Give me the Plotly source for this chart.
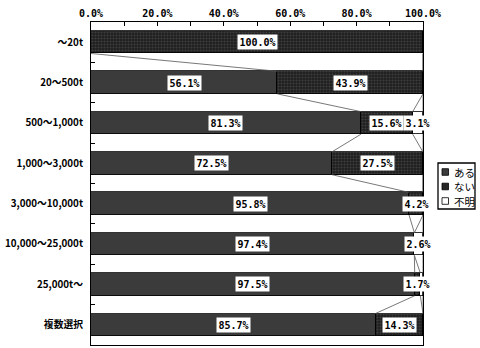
import plotly.graph_objects as go

# Survey result by annual volume class (percent of respondents)
categories = ["～20t", "20～500t", "500～1,000t", "1,000～3,000t",
              "3,000～10,000t", "10,000～25,000t", "25,000t～", "複数選択"]
series_names = ["ある", "ない", "不明"]
aru = [0.0, 56.1, 81.3, 72.5, 95.8, 97.4, 97.5, 85.7]
nai = [100.0, 43.9, 15.6, 27.5, 4.2, 0.0, 1.7, 14.3]
fumei = [0.0, 0.0, 3.1, 0.0, 0.0, 2.6, 0.8, 0.0]
x_tick_vals = [0, 10, 20, 30, 40, 50, 60, 70, 80, 90, 100]
x_tick_text = ["0.0%", "", "20.0%", "", "40.0%", "", "60.0%", "", "80.0%", "", "100.0%"]

W, H = 480, 348
M_L, M_R, M_T, M_B = 91, 57, 22, 3
BAR_W = 0.56
JP_FONT = "Noto Sans CJK JP"
NUM_FONT = "DejaVu Sans Mono"

styles = [
    dict(color="#3b3b3b"),
    dict(color="#1f1f1f", pattern=dict(shape=".", fgcolor="#5e5e5e", size=3, solidity=0.35)),
    dict(color="#ffffff"),
]
values = [aru, nai, fumei]

fig = go.Figure()
for name, vals, st in zip(series_names, values, styles):
    fig.add_trace(go.Bar(
        y=categories, x=vals, name=name, orientation="h", width=BAR_W,
        marker=dict(line=dict(color="#000000", width=0.8), **st),
        showlegend=False, hoverinfo="skip",
    ))

# cumulative right edges of each series, per row
cums = []
running = [0.0] * len(categories)
for vals in values:
    running = [r + v for r, v in zip(running, vals)]
    cums.append(list(running))

# series lines joining segment ends of neighbouring bars
shapes = []
for cum in cums:
    for i in range(len(categories) - 1):
        shapes.append(dict(
            type="line", xref="x", yref="y",
            x0=cum[i], y0=i + BAR_W / 2, x1=cum[i + 1], y1=i + 1 - BAR_W / 2,
            line=dict(color="#555555", width=0.8), layer="above",
        ))

# value labels in white boxes
annotations = []
for vals, cum in zip(values, cums):
    for i, v in enumerate(vals):
        if v < 1.0:
            continue
        annotations.append(dict(
            x=cum[i] - v / 2, y=i, xref="x", yref="y",
            text=f"<b>{v:.1f}%</b>", showarrow=False,
            font=dict(family=NUM_FONT, size=10, color="#000000"),
            bgcolor="#ffffff", borderpad=1.5,
        ))

# legend box drawn at fixed pixel spots
pw = W - M_L - M_R
ph = H - M_T - M_B

def px(xp):
    return (xp - M_L) / pw

def py(yp):
    return (H - M_B - yp) / ph

shapes.append(dict(type="rect", xref="paper", yref="paper",
                   x0=px(438), x1=px(475), y0=py(209), y1=py(163),
                   line=dict(color="#000000", width=1.3), fillcolor="#ffffff", layer="above"))
legend_rows = [172, 186.5, 201]
swatch_fill = ["#3b3b3b", "#262626", "#ffffff"]
for name, yc, fill in zip(series_names, legend_rows, swatch_fill):
    shapes.append(dict(type="rect", xref="paper", yref="paper",
                       x0=px(442), x1=px(448.5), y0=py(yc + 3.3), y1=py(yc - 3.3),
                       line=dict(color="#000000", width=0.8), fillcolor=fill, layer="above"))
    annotations.append(dict(x=px(451.5), y=py(yc), xref="paper", yref="paper",
                            text=name, showarrow=False, xanchor="left", yanchor="middle",
                            font=dict(family=JP_FONT, size=10.5, color="#000000")))

fig.update_layout(
    width=W, height=H, barmode="stack", bargap=0,
    margin=dict(l=M_L, r=M_R, t=M_T, b=M_B, pad=0),
    plot_bgcolor="#ffffff", paper_bgcolor="#ffffff",
    shapes=shapes, annotations=annotations, showlegend=False,
    font=dict(family=JP_FONT, color="#000000"),
)
fig.update_xaxes(
    side="top", range=[0, 100], tickvals=x_tick_vals, ticktext=x_tick_text,
    ticks="inside", ticklen=4, tickcolor="#000000", showgrid=False, zeroline=False,
    showline=True, mirror=True, linecolor="#000000", linewidth=1,
    tickfont=dict(family=NUM_FONT, size=10, color="#000000", weight="bold"), automargin=False,
)
fig.update_yaxes(
    type="category", categoryorder="array", categoryarray=categories,
    range=[len(categories) - 0.5, -0.5], tickson="boundaries",
    ticks="inside", ticklen=4, tickcolor="#000000", showgrid=False, zeroline=False,
    showline=True, mirror=True, linecolor="#000000", linewidth=1,
    tickfont=dict(family=JP_FONT, size=9.8, color="#000000", weight="bold"), ticklabelstandoff=5,
    automargin=False,
)

fig.write_html("out.html")
